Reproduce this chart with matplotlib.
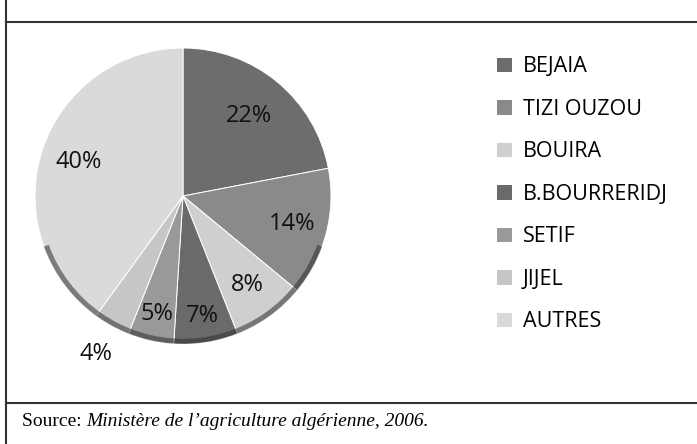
import numpy as np
import matplotlib.pyplot as plt
from matplotlib.lines import Line2D
from matplotlib.patches import Wedge

W, H = 697, 444

regions = ['BEJAIA', 'TIZI OUZOU', 'BOUIRA', 'B.BOURRERIDJ', 'SETIF', 'JIJEL', 'AUTRES']
shares = [22, 14, 8, 7, 5, 4, 40]
colors = ['#6d6d6d', '#8a8a8a', '#cfcfcf', '#6a6a6a', '#999999', '#c6c6c6', '#dadada']
# how far from the centre each percentage sits (fraction of radius)
label_dist = [0.70, 0.76, 0.74, 0.82, 0.82, 1.22, 0.74]

title = "Figure 1 : Répartition des oliveraies à l’échelle géographique des surfaces en Algérie"
source_lbl = "Source: "
source_txt = "Ministère de l’agriculture algérienne, 2006."

fig = plt.figure(figsize=(W / 100, H / 100), dpi=100)

# pie axes, centre (183,196) px, radius 148 px
cx, cy, r = 183, 196, 148
ax = fig.add_axes([(cx - r) / W, (H - cy - r) / H, 2 * r / W, 2 * r / H])
wedges, texts = ax.pie(shares, colors=colors, startangle=90, counterclock=False,
                       radius=1, wedgeprops=dict(edgecolor='white', linewidth=0.7))
# darker bevel along the lower rim
ax.add_patch(Wedge((0, 0), 1.0, 200, 340, width=0.035, color='#2e2e2e', alpha=0.55, lw=0))
ax.set_xlim(-1, 1)
ax.set_ylim(-1, 1)
ax.set_aspect('equal')
ax.axis('off')

for w, val, d in zip(wedges, shares, label_dist):
    ang = np.deg2rad((w.theta1 + w.theta2) / 2)
    ax.text(d * np.cos(ang), d * np.sin(ang), f'{val}%', ha='center', va='center',
            fontsize=17, family='Open Sans', color='#111111', clip_on=False)

fig.legend(wedges, regions, loc='upper left', bbox_to_anchor=(496 / W, 1 - 56 / H),
           frameon=False, prop=dict(family='Open Sans', size=15.5), handlelength=0.72,
           handleheight=0.72, handletextpad=0.53, labelspacing=1.0, borderpad=0,
           borderaxespad=0)

# frame lines
lc = '#333333'
fig.add_artist(Line2D([6 / W, 6 / W], [0, 1], color=lc, lw=1.5))
fig.add_artist(Line2D([6 / W, 1], [1 - 22 / H, 1 - 22 / H], color=lc, lw=1.5))
fig.add_artist(Line2D([6 / W, 1], [1 - 403 / H, 1 - 403 / H], color=lc, lw=1.5))

# title, cut by the top edge (only descenders show)
fig.text(22 / W, 1 + 5 / H, title, family='Liberation Serif', style='italic',
         fontsize=15, va='baseline', ha='left')

t = fig.text(22 / W, 1 - 426 / H, source_lbl, family='Liberation Serif',
             fontsize=14, va='baseline', ha='left')
fig.canvas.draw()
bb = t.get_window_extent()
fig.text(bb.x1 / W, 1 - 426 / H, source_txt, family='Liberation Serif', style='italic',
         fontsize=14, va='baseline', ha='left')

fig.savefig('out.png', dpi=100)
